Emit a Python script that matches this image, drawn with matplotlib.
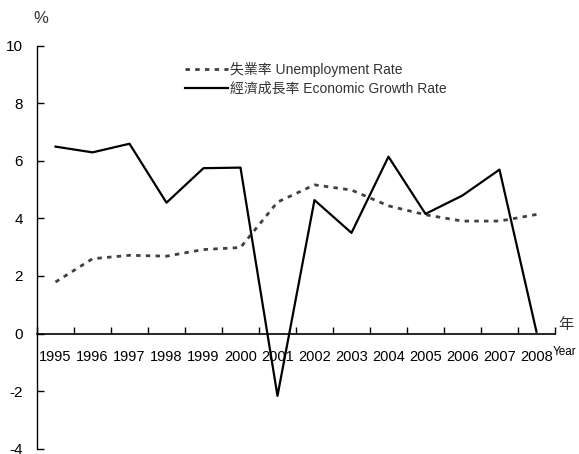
import matplotlib
matplotlib.use("Agg")
import matplotlib.pyplot as plt
from matplotlib.ticker import FixedLocator

years = ['1995', '1996', '1997', '1998', '1999', '2000', '2001',
         '2002', '2003', '2004', '2005', '2006', '2007', '2008']
unemployment = [1.79, 2.60, 2.72, 2.69, 2.92, 2.99, 4.57,
                5.17, 4.99, 4.44, 4.13, 3.91, 3.91, 4.14]
growth = [6.5, 6.3, 6.6, 4.55, 5.75, 5.77, -2.17,
          4.64, 3.5, 6.15, 4.16, 4.8, 5.7, 0.06]
y_ticks = [-4, -2, 0, 2, 4, 6, 8, 10]

plt.rcParams['font.family'] = ['Liberation Sans', 'Noto Sans CJK TC', 'DejaVu Sans']

fig = plt.figure(figsize=(5.79, 4.54), dpi=100)
ax = fig.add_axes([0.0639, 0.0121, 0.8946, 0.8866])

x = list(range(len(years)))
ax.plot(x, unemployment, color='#404040', lw=2.0, ls=(0, (1.6, 1.9)),
        label='失業率 Unemployment Rate')
ax.plot(x, growth, color='black', lw=1.6, label='經濟成長率 Economic Growth Rate')

ax.set_xlim(-0.5, len(years) - 0.5)
ax.set_ylim(-4, 10)

# axes: left spine and the zero line only
ax.spines['top'].set_visible(False)
ax.spines['right'].set_visible(False)
ax.spines['bottom'].set_position(('data', 0))
ax.spines['left'].set_linewidth(1.0)
ax.spines['bottom'].set_linewidth(1.2)

ax.set_yticks(y_ticks)
ax.set_yticklabels([str(v) for v in y_ticks])
ax.tick_params(axis='y', direction='in', length=5, width=1, pad=10, labelsize=11)

ax.xaxis.set_major_locator(FixedLocator([i - 0.5 for i in range(len(years) + 1)]))
ax.set_xticklabels([])
ax.tick_params(axis='x', direction='in', length=5, width=1)
for i, yr in enumerate(years):
    ax.text(i, -0.8, yr, ha='center', va='center', fontsize=10.5)

ax.text(-0.4, 10.95, '%', fontsize=12, ha='center', va='center', color='#333333')
ax.text(13.6, 0.3, '年', fontsize=11, ha='left', va='center',
        family=['Noto Sans CJK TC'], color='#333333')
ax.text(13.45, -0.65, 'Year', fontsize=8.5, ha='left', va='center')

leg = ax.legend(loc='upper left', bbox_to_anchor=(0.275, 0.975), frameon=False,
                fontsize=10, handlelength=3.1, handletextpad=0.15,
                labelspacing=0.4, borderaxespad=0)
for t in leg.get_texts():
    t.set_color('#333333')

fig.savefig('out.png', dpi=100)
